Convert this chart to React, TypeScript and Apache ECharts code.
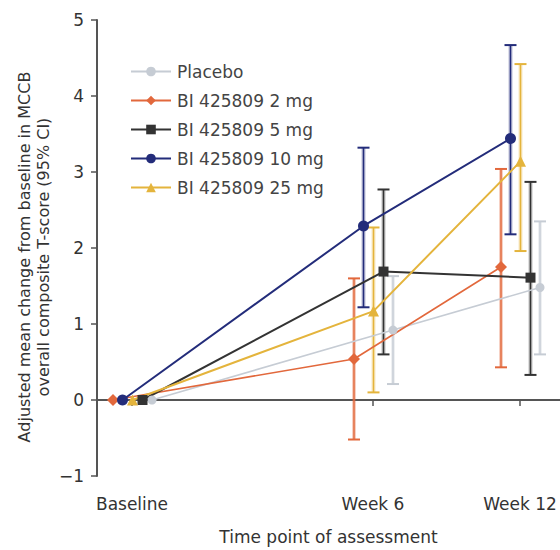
import React, { useEffect, useRef } from "react";
import * as echarts from "echarts";

// ---- data ----
const timePoints = ["Baseline", "Week 6", "Week 12"];
const seriesNames = [
  "Placebo",
  "BI 425809 2 mg",
  "BI 425809 5 mg",
  "BI 425809 10 mg",
  "BI 425809 25 mg",
];
const placeboMean = [0, 0.92, 1.48];
const placeboLow = [0, 0.21, 0.6];
const placeboHigh = [0, 1.63, 2.35];
const mg2Mean = [0, 0.54, 1.75];
const mg2Low = [0, -0.52, 0.43];
const mg2High = [0, 1.6, 3.04];
const mg5Mean = [0, 1.69, 1.61];
const mg5Low = [0, 0.6, 0.33];
const mg5High = [0, 2.77, 2.87];
const mg10Mean = [0, 2.29, 3.44];
const mg10Low = [0, 1.22, 2.18];
const mg10High = [0, 3.32, 4.67];
const mg25Mean = [0, 1.17, 3.14];
const mg25Low = [0, 0.1, 1.96];
const mg25High = [0, 2.27, 4.42];
const yTicks = [-1, 0, 1, 2, 3, 4, 5];
const yTitle = "Adjusted mean change from baseline in MCCB\noverall composite T-score (95% CI)";

// ---- layout / style ----
const X_MIN = 0;
const X_MAX = 463;
const TICK_POS = [35, 276, 423];
const DODGE = [20, -19, 10.5, -9.5, 0.5];
const COLORS = ["#c6ccd4", "#e2683c", "#333333", "#232c7a", "#e4b43c"];
const SYMBOLS = ["circle", "diamond", "rect", "circle", "triangle"];
const SYMBOL_SIZES = [9, 12, 10, 11, 11];
const FONT = "DejaVu Sans";
const TEXT = "#333";

const means = [placeboMean, mg2Mean, mg5Mean, mg10Mean, mg25Mean];
const lows = [placeboLow, mg2Low, mg5Low, mg10Low, mg25Low];
const highs = [placeboHigh, mg2High, mg5High, mg10High, mg25High];

export default function App() {
  const ref = useRef<HTMLDivElement>(null);
  useEffect(() => {
    if (!ref.current) return;
    const chart = echarts.init(ref.current, null, { renderer: "svg" });

    const errSeries: any[] = seriesNames.map((name, s) => ({
      type: "custom",
      name: name + " CI",
      z: 1,
      data: timePoints.map((_, i) => [TICK_POS[i] + DODGE[s], lows[s][i], highs[s][i]]),
      encode: { x: 0, y: [1, 2] },
      renderItem: (params: any, api: any) => {
        const x = api.value(0);
        const lo = api.value(1);
        const hi = api.value(2);
        if (lo === hi) return null;
        const pLo = api.coord([x, lo]);
        const pHi = api.coord([x, hi]);
        const c = COLORS[s];
        const cap = 6;
        return {
          type: "group",
          children: [
            {
              type: "line",
              shape: { x1: pLo[0], y1: pLo[1], x2: pHi[0], y2: pHi[1] },
              style: { stroke: c, lineWidth: 4, opacity: 0.3 },
            },
            {
              type: "line",
              shape: { x1: pLo[0], y1: pLo[1], x2: pHi[0], y2: pHi[1] },
              style: { stroke: c, lineWidth: 1.5 },
            },
            {
              type: "line",
              shape: { x1: pLo[0] - cap, y1: pLo[1], x2: pLo[0] + cap, y2: pLo[1] },
              style: { stroke: c, lineWidth: 2 },
            },
            {
              type: "line",
              shape: { x1: pHi[0] - cap, y1: pHi[1], x2: pHi[0] + cap, y2: pHi[1] },
              style: { stroke: c, lineWidth: 2 },
            },
          ],
        };
      },
    }));

    const lineSeries: any[] = seriesNames.map((name, s) => ({
      type: "line",
      name,
      z: 3,
      data: timePoints.map((_, i) => [TICK_POS[i] + DODGE[s], means[s][i]]),
      symbol: SYMBOLS[s],
      symbolSize: SYMBOL_SIZES[s],
      itemStyle: { color: COLORS[s] },
      lineStyle: { color: COLORS[s], width: s === 0 || s === 1 ? 1.6 : 2 },
      ...(s === 0
        ? {
            markLine: {
              silent: true,
              symbol: ["none", "none"],
              label: { show: false },
              lineStyle: { type: [5, 5], color: "#aaaaaa", width: 1.2 },
              data: [{ yAxis: 0 }],
              z: 0,
            },
          }
        : {}),
    }));

    chart.setOption({
      animation: false,
      textStyle: { fontFamily: FONT },
      grid: { left: 97, right: 0, top: 20, bottom: 69, containLabel: false },
      legend: {
        data: seriesNames,
        orient: "vertical",
        left: 125,
        top: 58,
        itemWidth: 40,
        itemHeight: 12,
        itemGap: 12,
        textStyle: { fontFamily: FONT, fontSize: 17, color: "#444", padding: [0, 0, 0, 1] },
      },
      graphic: [
        {
          type: "text",
          x: 34,
          y: 257,
          rotation: Math.PI / 2,
          style: {
            text: yTitle,
            font: `16px "${FONT}"`,
            fill: TEXT,
            align: "center",
            verticalAlign: "middle",
            lineHeight: 19,
          },
        },
      ],
      xAxis: {
        type: "value",
        min: X_MIN,
        max: X_MAX,
        name: "Time point of assessment",
        nameLocation: "middle",
        nameGap: 52,
        nameTextStyle: { fontFamily: FONT, fontSize: 17, color: TEXT },
        axisLine: { lineStyle: { color: "#555", width: 2 } },
        axisTick: {
          show: true,
          customValues: TICK_POS,
          length: 6,
          lineStyle: { color: "#555", width: 1.5 },
        },
        axisLabel: {
          customValues: TICK_POS,
          margin: 19,
          fontFamily: FONT,
          fontSize: 17,
          color: TEXT,
          formatter: (v: number) => {
            const idx = TICK_POS.findIndex((p) => Math.abs(p - v) < 0.01);
            return idx >= 0 ? timePoints[idx] : "";
          },
        },
        splitLine: { show: false },
      },
      yAxis: {
        type: "value",
        min: -1,
        max: 5,
        interval: 1,
        axisLine: { show: true, lineStyle: { color: "#555", width: 2 } },
        axisTick: { show: true, length: 6, lineStyle: { color: "#555", width: 1.5 } },
        axisLabel: {
          fontFamily: FONT,
          fontSize: 17,
          color: TEXT,
          margin: 13,
          customValues: yTicks,
          formatter: (v: number) => (v < 0 ? "\u2212" + Math.abs(v) : String(v)),
        },
        splitLine: { show: false },
      },
      series: [...errSeries, ...lineSeries],
    });
    return () => chart.dispose();
  }, []);
  return (
    <div
      ref={ref}
      style={{ position: "fixed", left: 0, top: 0, width: 560, height: 550, background: "#fff" }}
    />
  );
}
